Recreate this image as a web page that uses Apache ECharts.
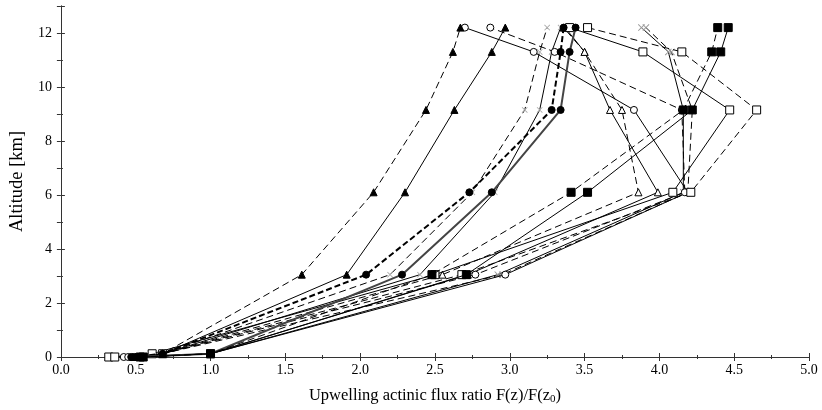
<!DOCTYPE html>
<html>
<head>
<meta charset="utf-8">
<script src="https://cdn.jsdelivr.net/npm/echarts@6/dist/echarts.min.js"></script>
<style>
  html, body { margin: 0; padding: 0; background: #fff; }
  #chart { width: 822px; height: 410px; }
</style>
</head>
<body>
<div id="chart"></div>
<script>
// Flight levels (km) at which the flux ratio was sampled
const altitudeKm = [0.0, 0.12, 3.05, 6.1, 9.15, 11.3, 12.2];

// Upwelling actinic flux ratio F(z)/F(z0) per profile, one value per level
const triFilledDash   = [0.50, 0.68, 1.61, 2.09, 2.44, 2.62, 2.67];
const triFilledSolid  = [0.52, 0.68, 1.91, 2.30, 2.63, 2.88, 2.97];
const dotFilledDash   = [0.47, 0.68, 2.04, 2.73, 3.28, 3.34, 3.36];
const dotFilledSolid  = [0.49, 1.00, 2.28, 2.88, 3.34, 3.40, 3.44];
const sqFilledDash    = [0.53, 1.00, 2.48, 3.41, 4.16, 4.35, 4.39];
const sqFilledSolid   = [0.55, 1.00, 2.71, 3.52, 4.22, 4.41, 4.46];
const sqOpenSolid     = [0.32, 0.61, 2.50, 4.09, 4.47, 3.89, 3.40];
const sqOpenDash      = [0.36, 0.68, 2.68, 4.21, 4.65, 4.15, 3.52];
const dotOpenSolid    = [0.42, 1.00, 2.97, 4.19, 3.83, 3.16, 2.70];
const dotOpenDash     = [0.45, 0.68, 2.77, 4.17, 4.15, 3.30, 2.87];
const triOpenSolid    = [0.48, 1.00, 2.72, 3.99, 3.67, 3.50, 3.37];
const triOpenDash     = [0.50, 0.68, 2.55, 3.86, 3.75, 3.50, 3.36];
const crossDash       = [0.46, 0.68, 2.20, 2.75, 3.10, 3.20, 3.25];
const crossSolid      = [0.48, 0.68, 2.40, 2.90, 3.20, 3.28, 3.34];
const curlSolid       = [0.51, 1.00, 2.92, 4.16, 4.16, 4.06, 3.88];
const curlDash        = [0.53, 0.68, 2.95, 4.19, 4.22, 4.08, 3.91];

// Axis ticks
const xTicks = { min: 0, max: 5, step: 0.5 };
const yTicks = { min: 0, max: 13, step: 2 };

const DASH = [7, 4];
const CROSS = 'path://M0,1L1,0L5,4L9,0L10,1L6,5L10,9L9,10L5,6L1,10L0,9L4,5Z';

function profile(name, xs, opt) {
  return {
    name: name,
    type: 'line',
    data: xs.map((x, i) => [x, altitudeKm[i]]),
    symbol: opt.symbol,
    symbolSize: opt.size || 7,
    showAllSymbol: true,
    z: opt.z || 2,
    lineStyle: {
      color: opt.lineColor || '#000',
      width: opt.width || 1,
      type: opt.dash ? (opt.dashArr || DASH) : 'solid'
    },
    itemStyle: {
      color: opt.fill,
      borderColor: opt.border || '#000',
      borderWidth: opt.borderWidth === undefined ? 1 : opt.borderWidth
    },
    emphasis: { disabled: true },
    animation: false
  };
}

const series = [
  profile('crossDash',      crossDash,      { symbol: CROSS, fill: '#aaa', border: '#aaa', borderWidth: 0, dash: true, size: 6 }),
  profile('crossSolid',     crossSolid,     { symbol: CROSS, fill: '#aaa', border: '#aaa', borderWidth: 0, size: 6 }),
  profile('curlSolid',      curlSolid,      { symbol: CROSS, fill: '#999', border: '#999', borderWidth: 0, size: 7 }),
  profile('curlDash',       curlDash,       { symbol: CROSS, fill: '#999', border: '#999', borderWidth: 0, dash: true, size: 7 }),
  profile('triOpenSolid',   triOpenSolid,   { symbol: 'triangle', fill: '#fff' }),
  profile('triOpenDash',    triOpenDash,    { symbol: 'triangle', fill: '#fff', dash: true }),
  profile('dotOpenSolid',   dotOpenSolid,   { symbol: 'circle', fill: '#fff', z: 3 }),
  profile('dotOpenDash',    dotOpenDash,    { symbol: 'circle', fill: '#fff', dash: true, z: 3 }),
  profile('sqOpenSolid',    sqOpenSolid,    { symbol: 'rect', fill: '#fff', size: 8, z: 3 }),
  profile('sqOpenDash',     sqOpenDash,     { symbol: 'rect', fill: '#fff', dash: true, size: 8, z: 3 }),
  profile('triFilledDash',  triFilledDash,  { symbol: 'triangle', fill: '#000', dash: true, z: 4 }),
  profile('triFilledSolid', triFilledSolid, { symbol: 'triangle', fill: '#000', z: 4 }),
  profile('dotFilledDash',  dotFilledDash,  { symbol: 'circle', fill: '#000', dash: true, width: 2, dashArr: [6, 3], z: 4 }),
  profile('dotFilledSolid', dotFilledSolid, { symbol: 'circle', fill: '#000', width: 2, lineColor: '#444', z: 4 }),
  profile('sqFilledDash',   sqFilledDash,   { symbol: 'rect', fill: '#000', dash: true, size: 8, z: 5 }),
  profile('sqFilledSolid',  sqFilledSolid,  { symbol: 'rect', fill: '#000', size: 8, z: 5 })
];

const FONT = 'Liberation Serif';
const frameLine = { show: true, lineStyle: { color: '#333', width: 1 } };

const chart = echarts.init(document.getElementById('chart'), null, { renderer: 'canvas' });
chart.setOption({
  backgroundColor: '#fff',
  animation: false,
  grid: { left: 54, right: 13, top: 6, bottom: 48 },
  xAxis: [
    {
      type: 'value',
      min: xTicks.min, max: xTicks.max, interval: xTicks.step,
      position: 'bottom',
      name: 'Upwelling actinic flux ratio F(z)/F(z{sub|0})',
      nameLocation: 'middle',
      nameGap: 29,
      nameTextStyle: {
        fontFamily: FONT, fontSize: 16.5, color: '#000',
        rich: { sub: { fontFamily: FONT, fontSize: 11, color: '#000', verticalAlign: 'bottom', padding: [8, 0, 0, 0] } }
      },
      axisLine: frameLine,
      axisTick: { show: true, inside: true, length: 4, lineStyle: { color: '#333' } },
      minorTick: { show: true, splitNumber: 2, length: 2, lineStyle: { color: '#333' } },
      axisLabel: {
        fontFamily: FONT, fontSize: 14, color: '#000', margin: 6,
        formatter: v => v.toFixed(1)
      },
      splitLine: { show: false }
    },
    {
      type: 'value',
      min: xTicks.min, max: xTicks.max, interval: xTicks.step,
      position: 'top',
      axisLine: frameLine,
      axisTick: { show: true, inside: true, length: 4, lineStyle: { color: '#333' } },
      minorTick: { show: true, splitNumber: 2, length: 2, lineStyle: { color: '#333' } },
      axisLabel: { show: false },
      splitLine: { show: false }
    }
  ],
  yAxis: [
    {
      type: 'value',
      min: yTicks.min, max: yTicks.max, interval: yTicks.step,
      position: 'left',
      name: 'Altitude [km]',
      nameLocation: 'middle',
      nameGap: 23,
      nameRotate: 90,
      nameTextStyle: { fontFamily: FONT, fontSize: 18.5, color: '#000' },
      axisLine: frameLine,
      axisTick: { show: true, inside: true, length: 4, lineStyle: { color: '#333' } },
      minorTick: { show: true, splitNumber: 2, length: 2, lineStyle: { color: '#333' } },
      axisLabel: { fontFamily: FONT, fontSize: 14, color: '#000', margin: 9, showMaxLabel: false },
      splitLine: { show: false }
    },
    {
      type: 'value',
      min: yTicks.min, max: yTicks.max, interval: 1,
      position: 'right',
      axisLine: frameLine,
      axisTick: { show: true, inside: true, length: 4, lineStyle: { color: '#333' } },
      axisLabel: { show: false },
      splitLine: { show: false }
    }
  ],
  series: series
});
</script>
</body>
</html>
